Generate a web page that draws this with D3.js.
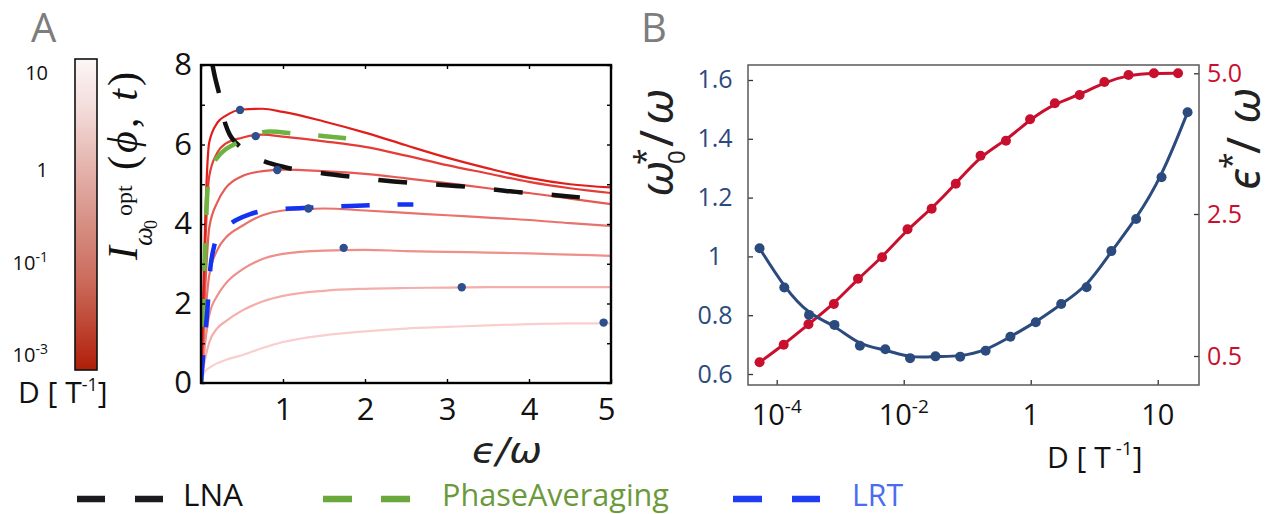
<!DOCTYPE html>
<html><head><meta charset="utf-8">
<script src="https://cdn.jsdelivr.net/npm/d3@7"></script>
<style>
html,body{margin:0;padding:0;background:#fff;}
svg{display:block;}
</style></head><body>
<svg id="chart" width="1276" height="514"></svg>
<script>
// ================= DATA =================
// ---- Panel A: information curves I(eps) for seven noise levels D ----
const epsGrid = [0, 0.02, 0.05, 0.1, 0.2, 0.3, 0.5, 0.75, 1, 1.5, 2, 2.5, 3, 3.5, 4, 4.5, 5];
const infoD1 = [0, 1.5, 4.0, 6.05, 6.55, 6.72, 6.88, 6.9, 6.82, 6.58, 6.3, 5.98, 5.67, 5.4, 5.16, 5.0, 4.92];
const infoD2 = [0, 1.3, 3.3, 5.2, 5.8, 6.02, 6.17, 6.25, 6.2, 6.08, 5.94, 5.72, 5.48, 5.27, 5.06, 4.9, 4.78];
const infoD3 = [0, 0.9, 2.3, 3.9, 4.55, 4.9, 5.2, 5.33, 5.37, 5.33, 5.26, 5.15, 5.03, 4.9, 4.78, 4.64, 4.5];
const infoD4 = [0, 0.6, 1.6, 2.7, 3.35, 3.65, 3.95, 4.22, 4.34, 4.39, 4.34, 4.28, 4.22, 4.16, 4.1, 4.02, 3.95];
const infoD5 = [0, 0.4, 1.0, 1.7, 2.2, 2.5, 2.85, 3.12, 3.25, 3.33, 3.35, 3.32, 3.3, 3.28, 3.26, 3.23, 3.2];
const infoD6 = [0, 0.25, 0.6, 1.02, 1.38, 1.55, 1.82, 2.05, 2.19, 2.32, 2.37, 2.39, 2.4, 2.41, 2.41, 2.41, 2.41];
const infoD7 = [0, 0.15, 0.3, 0.38, 0.5, 0.58, 0.7, 0.88, 1.03, 1.2, 1.3, 1.37, 1.41, 1.45, 1.48, 1.5, 1.5];
// optimal points (blue dots)
const peakEps  = [0.476, 0.667, 0.93, 1.31, 1.74, 3.18, 4.91];
const peakInfo = [6.87, 6.21, 5.36, 4.39, 3.40, 2.41, 1.52];
// LNA approximation
const lnaEps  = [0.14, 0.17, 0.2, 0.23, 0.27, 0.3, 0.35, 0.4, 0.48, 0.6, 0.78, 1.0, 1.13, 1.5, 1.82, 2.2, 2.53, 2.9, 3.22, 3.6, 3.92, 4.3, 4.62];
const lnaInfo = [8.0, 7.7, 7.45, 7.2, 6.75, 6.5, 6.25, 6.1, 5.94, 5.75, 5.57, 5.44, 5.38, 5.27, 5.19, 5.1, 5.04, 4.99, 4.94, 4.86, 4.79, 4.73, 4.67];
// Phase averaging approximation
const paEps  = [0.003, 0.015, 0.025, 0.035, 0.045, 0.055, 0.065, 0.075, 0.09, 0.12, 0.19, 0.3, 0.43, 0.6, 0.8, 1.15, 1.51, 1.84];
const paInfo = [0, 0.7, 1.4, 2.2, 2.95, 3.6, 4.2, 4.7, 5.1, 5.4, 5.65, 5.88, 6.03, 6.2, 6.32, 6.27, 6.21, 6.14];
// Linear response theory approximation
const lrtEps  = [0, 0.015, 0.035, 0.06, 0.08, 0.1, 0.12, 0.15, 0.18, 0.23, 0.3, 0.43, 0.6, 0.76, 1.1, 1.45, 2.16, 2.59];
const lrtInfo = [0, 0.4, 0.9, 1.4, 1.9, 2.5, 3.0, 3.35, 3.58, 3.78, 3.92, 4.1, 4.25, 4.33, 4.39, 4.42, 4.48, 4.49];
const xTicksA = [0, 1, 2, 3, 4, 5];
const xLabelsA = ["", "1", "2", "3", "4", "5"];
const yTicksA = [0, 1, 2, 3, 4, 5, 6, 7, 8];
const yLabelsA = ["0", "", "2", "", "4", "", "6", "", "8"];
// colour bar ticks (log10 D)
const cbTickLog = [1, 0, -1, -3];
const cbTickBase = ["10", "1", "10", "10"];
const cbTickExp = ["", "", "-1", "-3"];
// legend
const legendNames = ["LNA", "PhaseAveraging", "LRT"];

// ---- Panel B ----
const dExpOmega = [-4.27, -3.88, -3.49, -3.09, -2.69, -2.29, -1.90, -1.50, -1.11, -0.71, -0.32, 0.08, 0.48, 0.88, 1.27, 1.66, 2.06, 2.47];
const omegaStar = [1.028, 0.894, 0.801, 0.767, 0.696, 0.684, 0.654, 0.660, 0.659, 0.679, 0.727, 0.776, 0.838, 0.895, 1.018, 1.127, 1.269, 1.490];
const dExpEps = [-4.27, -3.89, -3.50, -3.10, -2.72, -2.34, -1.94, -1.56, -1.18, -0.79, -0.39, -0.01, 0.38, 0.77, 1.16, 1.54, 1.94, 2.32];
const epsStar = [0.411, 0.659, 0.947, 1.232, 1.589, 1.890, 2.285, 2.594, 3.038, 3.536, 3.802, 4.183, 4.467, 4.614, 4.845, 4.970, 5.0, 5.0];
const leftTicksB = [0.6, 0.8, 1.0, 1.2, 1.4, 1.6];
const leftLabelsB = ["0.6", "0.8", "1", "1.2", "1.4", "1.6"];
const rightTicksB = [0.5, 2.5, 5.0];
const rightLabelsB = ["0.5", "2.5", "5.0"];
const xTicksB = [1e-4, 1e-2, 1, 1e2];
const xTickBaseB = ["10", "10", "1", "10"];
const xTickExpB = ["-4", "-2", "", ""];

// ================= STYLE =================
const SANS = "'Open Sans','Noto Sans',sans-serif";
const SERIF = "'Liberation Serif','DejaVu Serif',serif";
const MATH = "'Noto Sans','DejaVu Sans',sans-serif";
const curveColors = ["#e01f1c", "#e43c36", "#e65a53", "#e9736c", "#ee8f89", "#f3aeaa", "#f8cfcd"];
const dotBlue = "#2e4f8e";
const navy = "#2b4a7e";
const crimson = "#c8102e";

const svg = d3.select("#chart");

// ================= PANEL A =================
const A = {left: 201, right: 611, top: 65, bottom: 383};
const xA = d3.scaleLinear().domain([0, 5]).range([A.left, A.right]);
const yA = d3.scaleLinear().domain([0, 8]).range([A.bottom, A.top]);

svg.append("defs").append("clipPath").attr("id", "clipA")
  .append("rect").attr("x", A.left).attr("y", A.top)
  .attr("width", A.right - A.left).attr("height", A.bottom - A.top);

const gA = svg.append("g").attr("clip-path", "url(#clipA)");
const lineA = d3.line().x(d => xA(d[0])).y(d => yA(d[1])).curve(d3.curveMonotoneX);
const curvesA = [infoD7, infoD6, infoD5, infoD4, infoD3, infoD2, infoD1];
const colorsRev = curveColors.slice().reverse();
curvesA.forEach((ys, i) => {
  gA.append("path").datum(epsGrid.map((e, j) => [e, ys[j]]))
    .attr("d", lineA).attr("fill", "none")
    .attr("stroke", colorsRev[i]).attr("stroke-width", 2.2);
});
const lineDash = d3.line().x(d => xA(d[0])).y(d => yA(d[1])).curve(d3.curveCatmullRom.alpha(0.5));
gA.append("path").datum(lnaEps.map((e, j) => [e, lnaInfo[j]]))
  .attr("d", lineDash).attr("fill", "none").attr("stroke", "#111")
  .attr("stroke-width", 4.5).attr("stroke-dasharray", "29,29");
gA.append("path").datum(paEps.map((e, j) => [e, paInfo[j]]))
  .attr("d", lineDash).attr("fill", "none").attr("stroke", "#6db33f")
  .attr("stroke-width", 4.5).attr("stroke-dasharray", "28,28");
gA.append("path").datum(lrtEps.map((e, j) => [e, lrtInfo[j]]))
  .attr("d", lineDash).attr("fill", "none").attr("stroke", "#1432f2")
  .attr("stroke-width", 4.5).attr("stroke-dasharray", "28,28");
gA.selectAll("circle.pk").data(peakEps).enter().append("circle")
  .attr("cx", d => xA(d)).attr("cy", (d, i) => yA(peakInfo[i]))
  .attr("r", 4.2).attr("fill", dotBlue);

// axes A
function clean(g) {
  g.select(".domain").remove();
  g.selectAll(".tick line").attr("stroke", "#000").attr("stroke-width", 1.4);
}
const gxA = svg.append("g").attr("transform", `translate(0,${A.bottom})`)
  .call(d3.axisBottom(xA).tickValues(xTicksA).tickSize(-4).tickPadding(15)
    .tickFormat((d, i) => xLabelsA[i]))
  .call(clean);
gxA.selectAll("text").attr("font-family", SANS).attr("font-size", 31).attr("fill", "#111")
  .attr("dx", (d, i) => i === xTicksA.length - 1 ? -5 : 0);
svg.append("g").attr("transform", `translate(0,${A.top})`)
  .call(d3.axisTop(xA).tickValues(xTicksA).tickSize(-4).tickFormat(""))
  .call(clean);
svg.append("g").attr("transform", `translate(${A.left},0)`)
  .call(d3.axisLeft(yA).tickValues(yTicksA).tickSize(-4).tickPadding(9)
    .tickFormat((d, i) => yLabelsA[i]))
  .call(clean)
  .selectAll("text").attr("font-family", SANS).attr("font-size", 31).attr("fill", "#111");
svg.append("g").attr("transform", `translate(${A.right},0)`)
  .call(d3.axisRight(yA).tickValues(yTicksA).tickSize(-4).tickFormat(""))
  .call(clean);
svg.append("rect").attr("x", A.left).attr("y", A.top)
  .attr("width", A.right - A.left).attr("height", A.bottom - A.top)
  .attr("fill", "none").attr("stroke", "#000").attr("stroke-width", 2.4);

// x label A
svg.append("text").attr("x", 507).attr("y", 463).attr("text-anchor", "middle")
  .attr("font-family", "'DejaVu Sans',sans-serif").attr("font-style", "italic").attr("font-size", 36)
  .attr("fill", "#222").attr("textLength", 70).attr("lengthAdjust", "spacingAndGlyphs").text("ϵ/ω");

// y label A (LaTeX style)
const yl = svg.append("g").attr("transform", "translate(137,260) rotate(-90)")
  .attr("font-family", SERIF).attr("fill", "#111");
yl.append("text").attr("x", 0).attr("y", 0).attr("font-size", 42).attr("font-style", "italic").text("I");
yl.append("text").attr("x", 14).attr("y", 15).attr("font-size", 27).attr("font-style", "italic").text("ω");
yl.append("text").attr("x", 31).attr("y", 20).attr("font-size", 18).text("0");
yl.append("text").attr("x", 44).attr("y", -5).attr("font-size", 24).text("opt");
const pt = yl.append("text").attr("x", 90).attr("y", 0).attr("font-size", 42)
  .attr("textLength", 98).attr("lengthAdjust", "spacing");
pt.append("tspan").text("(");
pt.append("tspan").attr("font-style", "italic").text("ϕ");
pt.append("tspan").text(", ");
pt.append("tspan").attr("font-style", "italic").text("t");
pt.append("tspan").text(")");

// colour bar
const grad = svg.select("defs").append("linearGradient").attr("id", "cbGrad")
  .attr("x1", 0).attr("y1", 0).attr("x2", 0).attr("y2", 1);
[["0", "#fcf6f6"], ["0.15", "#f3dedc"], ["0.35", "#e4b3ac"], ["0.55", "#d58b80"],
 ["0.7", "#cc6e5f"], ["0.85", "#bf4835"], ["1", "#b01e08"]].forEach(s =>
  grad.append("stop").attr("offset", s[0]).attr("stop-color", s[1]));
const CB = {x: 75, y: 59, w: 22, h: 311};
svg.append("rect").attr("x", CB.x).attr("y", CB.y).attr("width", CB.w).attr("height", CB.h)
  .attr("fill", "url(#cbGrad)").attr("stroke", "#111").attr("stroke-width", 1.6);
const cbY = d3.scaleLinear().domain([1, 0, -1, -3]).range([72.5, 170, 263, 355]);
cbTickLog.forEach((v, i) => {
  const t = svg.append("text").attr("x", 48).attr("y", cbY(v)).attr("dy", "0.36em")
    .attr("text-anchor", "end").attr("font-family", SANS).attr("font-size", 20).attr("fill", "#111");
  t.append("tspan").text(cbTickBase[i]);
  if (cbTickExp[i]) t.append("tspan").attr("dy", -8).attr("font-size", 14).text(cbTickExp[i]);
});
const cbl = svg.append("text").attr("x", 18).attr("y", 403).attr("font-family", SANS)
  .attr("font-size", 30).attr("fill", "#111");
cbl.append("tspan").text("D [ T");
cbl.append("tspan").attr("dy", -12).attr("font-size", 18).text("-1");
cbl.append("tspan").attr("dy", 12).text("]");

// panel letters
svg.append("text").attr("x", 31).attr("y", 42).attr("font-family", SANS).attr("font-size", 40)
  .attr("fill", "#7d7d7d").text("A");
svg.append("text").attr("x", 641).attr("y", 42).attr("font-family", SANS).attr("font-size", 40)
  .attr("fill", "#7d7d7d").text("B");

// legend
const legY = 499;
const legItems = [
  {x0: 77, x1: 163, tx: 183, tl: 60, stroke: "#1b1b1f", fill: "#111", dash: "28,30"},
  {x0: 323, x1: 410, tx: 442, tl: 227, stroke: "#6aa83c", fill: "#6b9a3b", dash: "29,29"},
  {x0: 733, x1: 820, tx: 852, tl: 51, stroke: "#1f3cf5", fill: "#4a6cf2", dash: "29,30"}
];
legItems.forEach((it, i) => {
  svg.append("line").attr("x1", it.x0).attr("x2", it.x1).attr("y1", legY).attr("y2", legY)
    .attr("stroke", it.stroke).attr("stroke-width", 6.5).attr("stroke-dasharray", it.dash);
  svg.append("text").attr("x", it.tx).attr("y", 506).attr("font-family", SANS)
    .attr("font-size", 31).attr("fill", it.fill)
    .attr("textLength", it.tl).attr("lengthAdjust", "spacingAndGlyphs").text(legendNames[i]);
});

// ================= PANEL B =================
const B = {left: 748, right: 1199, top: 65, bottom: 385};
const xB = d3.scaleLog().domain([Math.pow(10, -4.452), Math.pow(10, 2.650)]).range([B.left, B.right]);
const yB = d3.scaleLinear().domain([0.5626, 1.651]).range([B.bottom, B.top]);
const yR = d3.scaleLinear().domain([0.5, 2.5, 5.0]).range([356, 214, 73.3]);

const omegaPts = dExpOmega.map((e, i) => [Math.pow(10, e), omegaStar[i]]);
const epsPts = dExpEps.map((e, i) => [Math.pow(10, e), epsStar[i]]);

const lineBl = d3.line().x(d => xB(d[0])).y(d => yB(d[1])).curve(d3.curveBasis);
const lineBr = d3.line().x(d => xB(d[0])).y(d => yR(d[1])).curve(d3.curveBasis);

svg.append("path").datum(epsPts).attr("d", lineBr).attr("fill", "none")
  .attr("stroke", crimson).attr("stroke-width", 3);
svg.append("path").datum(omegaPts).attr("d", lineBl).attr("fill", "none")
  .attr("stroke", navy).attr("stroke-width", 3);
svg.selectAll("circle.red").data(epsPts).enter().append("circle")
  .attr("cx", d => xB(d[0])).attr("cy", d => yR(d[1])).attr("r", 5).attr("fill", crimson);
svg.selectAll("circle.blu").data(omegaPts).enter().append("circle")
  .attr("cx", d => xB(d[0])).attr("cy", d => yB(d[1])).attr("r", 5).attr("fill", navy);

function cleanB(g) {
  g.select(".domain").remove();
  g.selectAll(".tick line").attr("stroke", "#333").attr("stroke-width", 1.3);
}
// left axis
const gl = svg.append("g").attr("transform", `translate(${B.left},0)`)
  .call(d3.axisLeft(yB).tickValues(leftTicksB).tickSize(-5).tickFormat((d, i) => leftLabelsB[i]))
  .call(cleanB);
gl.selectAll("text").attr("x", -33).attr("text-anchor", "middle")
  .attr("font-family", SANS).attr("font-size", 25).attr("fill", navy);
// right axis
svg.append("g").attr("transform", `translate(${B.right},0)`)
  .call(d3.axisRight(yR).tickValues(rightTicksB).tickSize(-5).tickPadding(8)
    .tickFormat((d, i) => rightLabelsB[i]))
  .call(cleanB)
  .selectAll("text").attr("font-family", SANS).attr("font-size", 25).attr("fill", crimson);
// bottom axis
svg.append("g").attr("transform", `translate(0,${B.bottom})`)
  .call(d3.axisBottom(xB).tickValues(xTicksB).tickSize(-5).tickFormat(""))
  .call(cleanB);
xTicksB.forEach((v, i) => {
  const t = svg.append("text").attr("x", xB(v)).attr("y", 425).attr("text-anchor", "middle")
    .attr("font-family", SANS).attr("font-size", 29).attr("fill", "#111");
  t.append("tspan").text(xTickBaseB[i]);
  if (xTickExpB[i]) t.append("tspan").attr("dy", -12).attr("font-size", 19).text(xTickExpB[i]);
});
svg.append("rect").attr("x", B.left).attr("y", B.top)
  .attr("width", B.right - B.left).attr("height", B.bottom - B.top)
  .attr("fill", "none").attr("stroke", "#5a5a5a").attr("stroke-width", 1.5);

// x label B
const bxl = svg.append("text").attr("x", 1047).attr("y", 468).attr("font-family", SANS)
  .attr("font-size", 30).attr("fill", "#111");
bxl.append("tspan").text("D [ T");
bxl.append("tspan").attr("dy", -13).attr("font-size", 19).text(" -1");
bxl.append("tspan").attr("dy", 13).text("]");

// left y label B
const lb = svg.append("g").attr("transform", "translate(673,197) rotate(-90)")
  .attr("font-family", MATH).attr("fill", "#222").attr("font-style", "italic");
lb.append("text").attr("x", 0).attr("y", 0).attr("font-size", 46).text("ω");
lb.append("text").attr("x", 32).attr("y", -17).attr("font-size", 30).attr("font-style", "normal").text("*");
lb.append("text").attr("x", 33).attr("y", 12).attr("font-size", 24).attr("font-style", "normal").text("0");
lb.append("text").attr("x", 50).attr("y", 0).attr("font-size", 46).attr("font-style", "normal").text("/");
lb.append("text").attr("x", 72).attr("y", 0).attr("font-size", 46).text("ω");

// right y label B
const rb = svg.append("g").attr("transform", "translate(1260,190) rotate(-90)")
  .attr("font-family", MATH).attr("fill", "#222").attr("font-style", "italic");
rb.append("text").attr("x", 0).attr("y", 0).attr("font-size", 46).text("ϵ");
rb.append("text").attr("x", 21).attr("y", -18).attr("font-size", 30).attr("font-style", "normal").text("*");
rb.append("text").attr("x", 36).attr("y", 0).attr("font-size", 46).attr("font-style", "normal").text("/");
rb.append("text").attr("x", 66).attr("y", 0).attr("font-size", 46).text("ω");
</script>
</body></html>
